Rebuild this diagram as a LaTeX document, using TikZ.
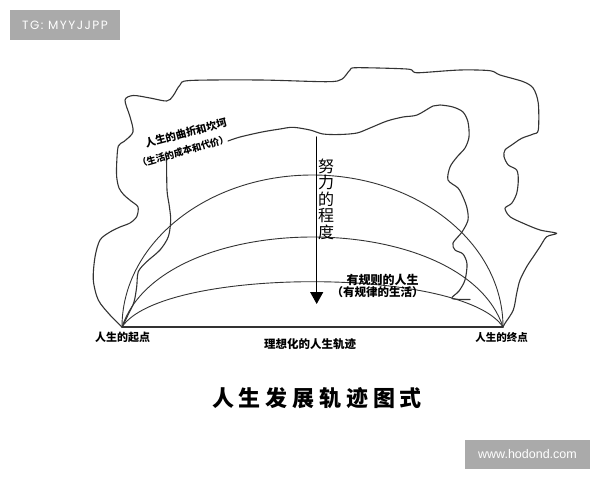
\documentclass[tikz,border=0pt]{standalone}
\usepackage{fontspec}
\usetikzlibrary{arrows.meta}
\newfontfamily\cjk{Noto Sans CJK SC}
\newfontfamily\titlefont[LetterSpace=22]{Noto Sans CJK SC}
\newfontfamily\wmfont[LetterSpace=12]{Poppins}
\newfontfamily\urlfont{Liberation Sans}
\definecolor{linegray}{HTML}{333333}
\definecolor{wmgray}{HTML}{AAAAAA}
\begin{document}
\begin{tikzpicture}[x=1pt,y=-1pt, line cap=round, line join=round,
  outline/.style={draw=linegray, line width=1.1pt},
  curve/.style={draw=linegray, line width=0.9pt},
  lbl/.style={text=black, inner sep=0pt},
  wm/.style={fill=wmgray, text=white, inner sep=0pt}]
\path[use as bounding box] (0,0) rectangle (600,480);
\fill[white] (0,0) rectangle (600,480);

% watermarks
\node[wm, minimum width=110pt, minimum height=30pt, font=\wmfont\fontsize{12}{14}\selectfont] (wm1) at (65,25) {TG: MYYJJPP};
\node[wm, minimum width=125pt, minimum height=29pt, font=\urlfont\fontsize{12.5}{14}\selectfont] (wm2) at (527.5,454.5) {www.hodond.com};

\coordinate (S) at (122,327);
\coordinate (E) at (503,327);

% outer irregular outline
\draw[outline] plot[smooth, tension=0.5] coordinates {
(122,327) (110,315) (98.3,300) (93.3,280) (95,257) (100,240) (110,232)
(120,227) (130,223) (136.7,216.7) (138,207) (131,201) (124,195) (119,188)
(116.7,177) (116.7,163) (118.3,146) (124,141.5) (133,132) (130,116.7)
(125,100) (133.3,95.5) (150,98) (166.7,101) (173,96) (180,85) (190,80.5)
(260,80) (326.7,81.7) (341.7,79.3) (350,70) (356.7,67.7) (406.7,69)
(413.3,71.7) (420,72.7) (460,70) (490,70.7) (500,75) (523.3,81.7)
(533.3,88.3) (538.3,103.3) (538.3,130) (533.3,134) (521.7,138.3)
(511.7,145) (505,150) (504,156.7) (508.3,165) (516.7,170) (518.3,180)
(516.7,193.3) (511.7,203.3) (505,208.3) (510,216.7) (523.3,223.3)
(540,230) (556.7,233.3) (546.7,236.7) (540,246.7) (533.3,256.7)
(526.7,266.7) (520,280) (516.7,293.3) (513.3,310) (505,323.3) (503,327)};

% inner irregular outline
\draw[outline] plot[smooth, tension=0.5] coordinates {
(122,327) (128,315) (134,302) (136.7,286.7) (138.3,271.7) (146.7,261.7)
(160,250) (168.3,236.7) (170.7,220) (169,204) (167,190) (166.5,156)};
\draw[outline] plot[smooth, tension=0.5] coordinates {
(228,141) (240,137) (262,132) (280,129) (293,127.3) (310,130) (323,134)
(340,134.5) (357,133) (370,128) (387,121) (403,117) (417,115) (433,106)
(440,105) (453,107) (463,112) (468,122) (469,137) (465,148) (457,157)
(450,167) (448,180) (458,188) (463,197) (467,208) (468,220) (462,232)
(453,243) (455,250) (463,254) (467,264) (465,280) (459,291) (452,298.5)
(470,299.5)};

% arcs
\draw[curve] (S) arc[start angle=180, end angle=0, x radius=190.5pt, y radius=152pt];
\draw[curve] (S) .. controls (162,207) and (463,207) .. (E);
\draw[curve] (S) .. controls (162,266.6) and (463,266.6) .. (E);

% baseline
\draw[draw=linegray, line width=1.8pt] (S) -- (E);

% effort arrow
\coordinate (AT) at (316.7,137);
\coordinate (AB) at (316.7,304);
\draw[draw=black, line width=1.2pt, -{Triangle[width=13pt,length=12pt]}] (AT) -- (AB);

% labels
\node[lbl, align=center, font=\cjk\fontsize{16}{16.5}\selectfont] (eff) at (326,199) {努\\力\\的\\程\\度};
\node[lbl, rotate=15, font=\cjk\bfseries\fontsize{10.5}{12}\selectfont] (qz) at (186,133) {人生的曲折和坎坷};
\node[lbl, rotate=16, font=\cjk\bfseries\fontsize{9.4}{11}\selectfont] (cb) at (183,151.5) {（生活的成本和代价）};
\node[lbl, font=\cjk\bfseries\fontsize{12}{13}\selectfont] (gz) at (382.5,280) {有规则的人生};
\node[lbl, font=\cjk\bfseries\fontsize{11.5}{13}\selectfont] (gl) at (377.5,292.5) {（有规律的生活）};
\node[lbl, font=\cjk\bfseries\fontsize{11}{12}\selectfont] (qd) at (122.5,337.5) {人生的起点};
\node[lbl, font=\cjk\bfseries\fontsize{11.5}{12}\selectfont] (lx) at (310,344) {理想化的人生轨迹};
\node[lbl, font=\cjk\bfseries\fontsize{10.5}{12}\selectfont] (zd) at (501.7,337.5) {人生的终点};
\node[lbl, font=\titlefont\bfseries\fontsize{22}{24}\selectfont] (title) at (317,398.5) {人生发展轨迹图式};
\end{tikzpicture}
\end{document}
